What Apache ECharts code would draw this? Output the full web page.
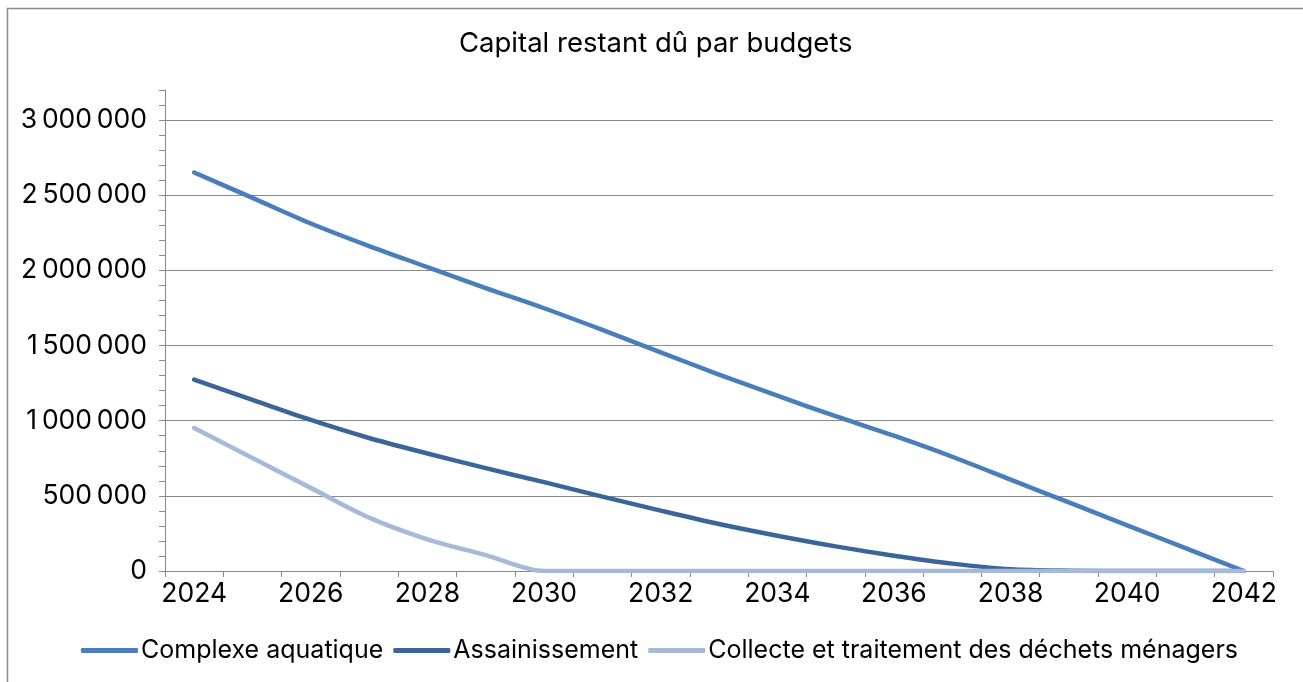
<!DOCTYPE html>
<html>
<head>
<meta charset="utf-8">
<script src="https://cdn.jsdelivr.net/npm/echarts@6/dist/echarts.min.js"></script>
<style>
  html, body { margin: 0; padding: 0; background: #fff; }
  #chart { width: 1303px; height: 682px; }
</style>
</head>
<body>
<div id="chart"></div>
<script>
const titleText = 'Capital restant dû par budgets';
const years = ['2024','2025','2026','2027','2028','2029','2030','2031','2032','2033','2034','2035','2036','2037','2038','2039','2040','2041','2042'];
const seriesNames = ['Complexe aquatique', 'Assainissement', 'Collecte et traitement des déchets ménagers'];
const complexeAquatique = [2651000, 2482000, 2312000, 2162000, 2022000, 1882000, 1748000, 1604000, 1455000, 1307000, 1166000, 1030000, 900000, 760000, 608000, 456000, 304000, 152000, 0];
const assainissement = [1273000, 1138000, 1005000, 885000, 782000, 684000, 591000, 495000, 402000, 313000, 235000, 164000, 102000, 49000, 12000, 2000, 0, 0, 0];
const collecte = [951000, 751000, 553000, 355000, 211000, 106000, 0, 0, 0, 0, 0, 0, 0, 0, 0, 0, 0, 0, 0];
const yMax = 3200000;
const yMajor = 500000;
const yMinor = 100000;

const FONT = 'Inter';
const colors = ['#4a7ebb', '#3b6598', '#a6b9d8'];
const grayLine = '#898989';

function fmt(v) {
  return String(v).replace(/\B(?=(\d{3})+(?!\d))/g, '\u202f');
}

const chart = echarts.init(document.getElementById('chart'), null, { renderer: 'canvas' });
const dataSets = [complexeAquatique, assainissement, collecte];

chart.setOption({
  backgroundColor: '#fff',
  animation: false,
  color: colors,
  textStyle: { fontFamily: FONT },
  graphic: [{
    type: 'rect',
    shape: { x: 7.5, y: 8.5, width: 1320, height: 700 },
    style: { fill: 'none', stroke: '#8c8c8c', lineWidth: 1.5 },
    silent: true
  }],
  title: {
    text: titleText,
    left: 454,
    top: 25,
    textStyle: { fontFamily: FONT, fontSize: 27.5, fontWeight: 'normal', color: '#000' }
  },
  legend: {
    left: 76,
    top: 633,
    icon: 'roundRect',
    itemWidth: 57,
    itemHeight: 5,
    itemGap: 10,
    textStyle: { fontFamily: FONT, fontSize: 25, color: '#000', padding: [0, 0, 0, -2] },
    data: seriesNames
  },
  grid: { left: 165, right: 30, top: 90, bottom: 111, containLabel: false },
  xAxis: {
    type: 'category',
    data: years,
    boundaryGap: true,
    axisLine: { show: true, lineStyle: { color: grayLine, width: 1 } },
    axisTick: { show: true, interval: 0, alignWithLabel: false, length: 6, lineStyle: { color: grayLine } },
    axisLabel: { interval: 1, fontFamily: FONT, fontSize: 26.5, color: '#000', margin: 10 },
    splitLine: { show: false }
  },
  yAxis: [{
    type: 'value',
    min: 0,
    max: yMax,
    interval: yMinor,
    axisLine: { show: true, lineStyle: { color: grayLine, width: 1 } },
    axisTick: { show: true, length: 6, lineStyle: { color: grayLine } },
    axisLabel: {
      fontFamily: FONT, fontSize: 26.5, color: '#000', margin: 18,
      formatter: v => (v % yMajor === 0 && v <= 3000000) ? fmt(v) : ''
    },
    splitLine: { show: false }
  }, {
    type: 'value',
    min: 0,
    max: yMax,
    interval: yMajor,
    position: 'left',
    axisLine: { show: false },
    axisTick: { show: false },
    axisLabel: { show: false },
    splitLine: { show: true, showMaxLine: false, lineStyle: { color: grayLine, width: 1 } }
  }],
  series: seriesNames.map((name, i) => ({
    name: name,
    type: 'line',
    yAxisIndex: 0,
    data: dataSets[i],
    smooth: 0.3,
    symbol: 'none',
    lineStyle: { width: 4.5, color: colors[i], cap: 'round', join: 'round' },
    itemStyle: { color: colors[i] }
  }))
});
</script>
</body>
</html>
